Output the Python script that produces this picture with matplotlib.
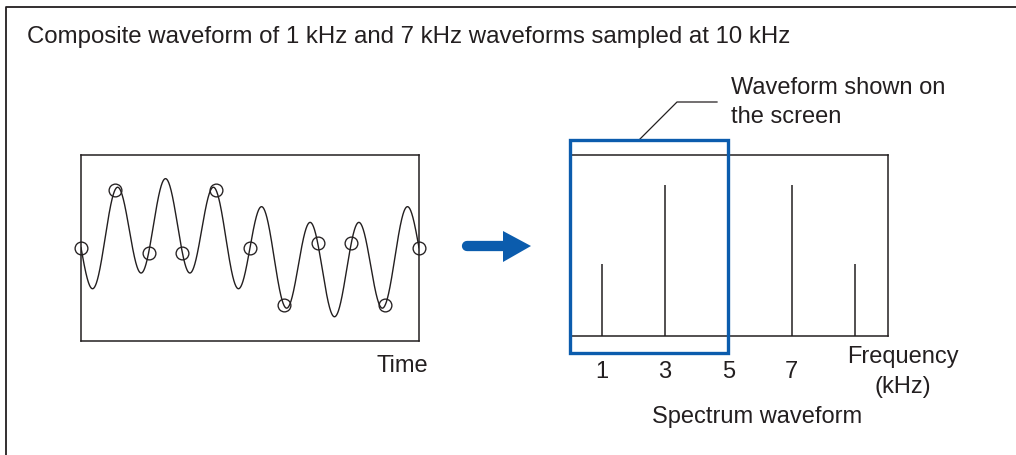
import numpy as np
import matplotlib.pyplot as plt
from matplotlib.patches import Rectangle, Polygon

# composite input: component frequencies (kHz) and relative amplitudes
wave_freqs_khz = [1, 7]
wave_amps = [0.5, -1.0]
sample_rate_khz = 10
n_samples = 11

# spectrum shown on screen (kHz) and relative line heights
spec_freqs = [1, 3, 7, 9]
spec_heights = [0.48, 1.0, 1.0, 0.48]
spec_ticks = [1, 3, 5, 7]
screen_max_khz = 5

W, H = 1016, 456
ink = '#231f20'
blue = '#0b5cad'
fs = 17
plt.rcParams['font.family'] = ['Liberation Sans', 'DejaVu Sans']

fig = plt.figure(figsize=(W / 100, H / 100), dpi=100)

def px_axes(x0, y0, x1, y1):
    # axes placed by its pixel box (top-left origin)
    return fig.add_axes([x0 / W, 1 - y1 / H, (x1 - x0) / W, (y1 - y0) / H])

# overlay for frame, texts and arrow, in pixels
ov = fig.add_axes([0, 0, 1, 1])
ov.set_xlim(0, W)
ov.set_ylim(H, 0)
ov.axis('off')
ov.plot([5.5, 5.5, W], [H, 8, 8], color=ink, lw=1.3)
ov.text(27, 37, 'Composite waveform of 1 kHz and 7 kHz waveforms sampled at 10 kHz',
        fontsize=17.3, color=ink, va='center', ha='left')

# time waveform
t = np.linspace(0, 1, 2000)
y = sum(a * np.sin(2 * np.pi * f * t) for f, a in zip(wave_freqs_khz, wave_amps))
ts = np.arange(n_samples) / sample_rate_khz
ys = sum(a * np.sin(2 * np.pi * f * ts) for f, a in zip(wave_freqs_khz, wave_amps))

ax1 = px_axes(81, 155.7, 419, 341.7)
ax1.plot(t, y, color=ink, lw=1.0)
ax1.plot(ts, ys, 'o', mfc='none', mec=ink, ms=9.2, mew=0.95, clip_on=False)
ax1.set_xlim(0, 1)
ax1.set_ylim(-2.02, 2.02)
ax1.set_xticks([])
ax1.set_yticks([])
for s in ax1.spines.values():
    s.set_color(ink)
    s.set_linewidth(1.1)
ov.text(402, 366, 'Time', fontsize=fs, color=ink, ha='center', va='center')

# arrow: rounded shaft + triangular head
ov.plot([467, 506], [247, 247], color=blue, lw=7.4, solid_capstyle='round')
ov.add_patch(Polygon([[503, 232], [531, 247], [503, 263]], closed=True, color=blue, lw=0))

# spectrum
ax2 = px_axes(570.3, 156, 888, 337)
ax2.vlines(spec_freqs, 0, spec_heights, color=ink, lw=1.1)
ax2.set_xlim(0, 10.05)
ax2.set_ylim(0, 181 / 151)
ax2.set_yticks([])
ax2.set_xticks(spec_ticks)
ax2.set_xticklabels([str(v) for v in spec_ticks])
ax2.tick_params(axis='x', length=0, pad=17, labelsize=fs, labelcolor=ink)
ax2.spines['left'].set_visible(False)
for k in ['top', 'right', 'bottom']:
    ax2.spines[k].set_color(ink)
    ax2.spines[k].set_linewidth(1.1)
ax2.add_patch(Rectangle((0, -17 / 151), screen_max_khz, (354 - 141) / 151,
                        fill=False, ec=blue, lw=2.4, clip_on=False, zorder=5))

ov.text(903, 357, 'Frequency', fontsize=fs, color=ink, ha='center', va='center')
ov.text(903, 387, '(kHz)', fontsize=fs, color=ink, ha='center', va='center')
ov.text(757, 417, 'Spectrum waveform', fontsize=fs, color=ink, ha='center', va='center')

ov.plot([717, 677, 640], [103, 103, 140], color=ink, lw=0.9)
ov.text(731, 88, 'Waveform shown on', fontsize=fs, color=ink, ha='left', va='center')
ov.text(731, 117, 'the screen', fontsize=fs, color=ink, ha='left', va='center')

fig.savefig('out.png', dpi=100)
